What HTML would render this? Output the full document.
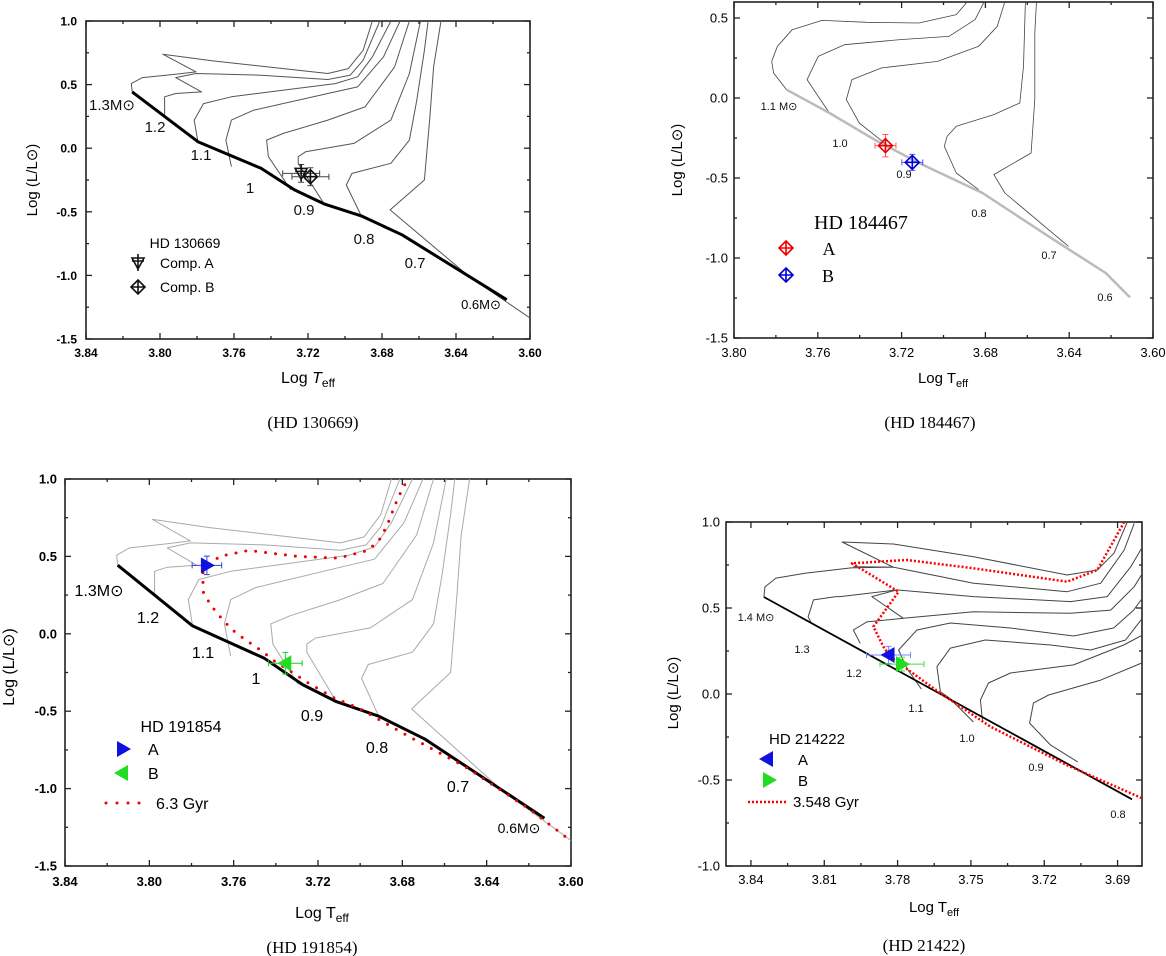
<!DOCTYPE html>
<html><head><meta charset="utf-8"><style>
html,body{margin:0;padding:0;background:#fff;}
svg{display:block;font-family:"Liberation Sans",Arial,sans-serif;}
.cap{font-family:"Liberation Serif",serif;font-size:17px;}
.lbl{font-size:15px;fill:#111;}
.sl{font-size:11px;fill:#111;}
</style></head><body>
<svg id="fig" width="1166" height="956" viewBox="0 0 1166 956" xmlns="http://www.w3.org/2000/svg">
<defs>
<clipPath id="c1"><rect x="86" y="21" width="444" height="318"/></clipPath>
<clipPath id="c2"><rect x="734" y="2" width="419" height="336"/></clipPath>
<clipPath id="c3"><rect x="65" y="479" width="506" height="387"/></clipPath>
<clipPath id="c4"><rect x="726" y="522" width="416" height="344"/></clipPath>
</defs>
<!-- Panel 1 static text -->
<g>
<text x="37" y="180" transform="rotate(-90 37 180)" text-anchor="middle" font-size="15">Log (L/L⊙)</text>
<text x="308" y="383" text-anchor="middle" font-size="16">Log <tspan font-style="italic">T</tspan><tspan font-size="12" dy="4">eff</tspan></text>
<text x="313" y="428" text-anchor="middle" class="cap">(HD 130669)</text>
<text x="112" y="110" text-anchor="middle" class="lbl">1.3M⊙</text>
<text x="155" y="132" text-anchor="middle" class="lbl">1.2</text>
<text x="201" y="160" text-anchor="middle" class="lbl">1.1</text>
<text x="250" y="193" text-anchor="middle" class="lbl">1</text>
<text x="304" y="215" text-anchor="middle" class="lbl">0.9</text>
<text x="364" y="244" text-anchor="middle" class="lbl">0.8</text>
<text x="415" y="268" text-anchor="middle" class="lbl">0.7</text>
<text x="481" y="309" text-anchor="middle" font-size="13">0.6M⊙</text>
<text x="185" y="248" text-anchor="middle" font-size="14">HD 130669</text>
<text x="160" y="268" font-size="14">Comp. A</text>
<text x="160" y="292" font-size="14">Comp. B</text>
</g>
<!-- Panel 2 static text -->
<g>
<text x="682" y="160" transform="rotate(-90 682 160)" text-anchor="middle" font-size="15">Log (L/L⊙)</text>
<text x="943" y="383" text-anchor="middle" font-size="15">Log T<tspan font-size="11" dy="4">eff</tspan></text>
<text x="930" y="428" text-anchor="middle" class="cap">(HD 184467)</text>
<text x="779" y="110" text-anchor="middle" class="sl">1.1 M⊙</text>
<text x="840" y="147" text-anchor="middle" class="sl">1.0</text>
<text x="904" y="178" text-anchor="middle" class="sl">0.9</text>
<text x="979" y="217" text-anchor="middle" class="sl">0.8</text>
<text x="1049" y="259" text-anchor="middle" class="sl">0.7</text>
<text x="1105" y="301" text-anchor="middle" class="sl">0.6</text>
<text x="861" y="229" text-anchor="middle" font-size="20" font-family="Liberation Serif,serif">HD 184467</text>
<text x="829" y="255" text-anchor="middle" font-size="18" font-family="Liberation Serif,serif">A</text>
<text x="828" y="282" text-anchor="middle" font-size="18" font-family="Liberation Serif,serif">B</text>
</g>
<!-- Panel 3 static text -->
<g>
<text x="14" y="667" transform="rotate(-90 14 667)" text-anchor="middle" font-size="16">Log (L/L⊙)</text>
<text x="322" y="918" text-anchor="middle" font-size="16">Log T<tspan font-size="12" dy="4">eff</tspan></text>
<text x="312" y="953" text-anchor="middle" class="cap">(HD 191854)</text>
<text x="99" y="596" text-anchor="middle" font-size="16">1.3M⊙</text>
<text x="148" y="623" text-anchor="middle" font-size="16">1.2</text>
<text x="203" y="658" text-anchor="middle" font-size="16">1.1</text>
<text x="256" y="684" text-anchor="middle" font-size="16">1</text>
<text x="312" y="721" text-anchor="middle" font-size="16">0.9</text>
<text x="377" y="753" text-anchor="middle" font-size="16">0.8</text>
<text x="458" y="792" text-anchor="middle" font-size="16">0.7</text>
<text x="519" y="833" text-anchor="middle" font-size="14">0.6M⊙</text>
<text x="181" y="732" text-anchor="middle" font-size="16">HD 191854</text>
<text x="148" y="755" font-size="16">A</text>
<text x="148" y="779" font-size="16">B</text>
<text x="156" y="809" font-size="16">6.3 Gyr</text>
</g>
<!-- Panel 4 static text -->
<g>
<text x="678" y="693" transform="rotate(-90 678 693)" text-anchor="middle" font-size="15">Log (L/L⊙)</text>
<text x="934" y="912" text-anchor="middle" font-size="15">Log T<tspan font-size="11" dy="4">eff</tspan></text>
<text x="924" y="951" text-anchor="middle" class="cap">(HD 21422)</text>
<text x="756" y="621" text-anchor="middle" class="sl">1.4 M⊙</text>
<text x="802" y="653" text-anchor="middle" class="sl">1.3</text>
<text x="854" y="677" text-anchor="middle" class="sl">1.2</text>
<text x="916" y="712" text-anchor="middle" class="sl">1.1</text>
<text x="967" y="742" text-anchor="middle" class="sl">1.0</text>
<text x="1036" y="771" text-anchor="middle" class="sl">0.9</text>
<text x="1118" y="818" text-anchor="middle" class="sl">0.8</text>
<text x="807" y="744" text-anchor="middle" font-size="15">HD 214222</text>
<text x="798" y="765" font-size="15">A</text>
<text x="798" y="786" font-size="15">B</text>
<text x="793" y="807" font-size="15">3.548 Gyr</text>
</g>
</svg>
<script>
// ===== Shared track data (panels 1 & 3): [logTeff, logL] =====
const zamsA = [[3.815,0.443],[3.7795,0.051],[3.7454,-0.158],[3.7273,-0.328],[3.7113,-0.438],[3.6912,-0.532],[3.6692,-0.681],[3.6126,-1.191]];
const trackA13 = [[3.815,0.443],[3.8155,0.508],[3.8095,0.555],[3.7915,0.582],[3.7805,0.600],[3.7985,0.739],[3.7714,0.686],[3.7093,0.587],[3.6982,0.626],[3.6902,0.770],[3.6852,1.0]];
const trackA12 = [[3.7975,0.25],[3.7975,0.351],[3.7975,0.404],[3.7915,0.430],[3.7775,0.443],[3.7915,0.555],[3.7805,0.587],[3.7454,0.574],[3.7093,0.540],[3.6972,0.574],[3.6902,0.691],[3.6812,1.0]];
const trackA11 = [[3.7795,0.051],[3.7815,0.221],[3.7765,0.351],[3.7614,0.404],[3.7053,0.508],[3.6932,0.561],[3.6852,0.718],[3.6752,1.0]];
const trackA10 = [[3.7614,-0.145],[3.7644,0.064],[3.7614,0.221],[3.7494,0.299],[3.7093,0.430],[3.6932,0.482],[3.6792,0.718],[3.6702,1.0]];
const trackA09 = [[3.7293,-0.328],[3.7414,-0.067],[3.7424,0.064],[3.7333,0.116],[3.7093,0.221],[3.6892,0.325],[3.6732,0.639],[3.6652,1.0]];
const trackA08 = [[3.7113,-0.438],[3.7253,-0.119],[3.7253,-0.067],[3.7213,-0.028],[3.6952,0.038],[3.6752,0.221],[3.6652,0.587],[3.6592,1.0]];
const trackA07 = [[3.6912,-0.532],[3.6993,-0.289],[3.6962,-0.198],[3.6752,-0.119],[3.6652,0.064],[3.6612,0.378],[3.6571,0.770],[3.6551,1.0]];
const trackA06 = [[3.60,-1.335],[3.633,-1.008],[3.6756,-0.485],[3.6571,-0.250],[3.6541,0.247],[3.6521,0.639],[3.6481,1.0]];
// Panel 1 stars [T, L, errT, errL]
const p1StarA = [3.7237,-0.198,0.010,0.07];
const p1StarB = [3.7187,-0.224,0.010,0.07];
// ===== Panel 2 =====
const zamsB = [[3.7749,0.052],[3.7544,-0.094],[3.7330,-0.260],[3.7117,-0.406],[3.6814,-0.594],[3.6475,-0.885],[3.6226,-1.094],[3.611,-1.246]];
const trackB11 = [[3.7749,0.052],[3.7811,0.156],[3.782,0.229],[3.7793,0.323],[3.7722,0.427],[3.7580,0.485],[3.7366,0.473],[3.7117,0.469],[3.6939,0.521],[3.6885,0.604]];
const trackB10 = [[3.7544,-0.094],[3.7598,0.010],[3.7651,0.115],[3.7598,0.260],[3.7473,0.333],[3.7206,0.365],[3.6974,0.385],[3.6849,0.490],[3.6805,0.604]];
const trackB09 = [[3.7241,-0.323],[3.7402,-0.156],[3.7464,-0.010],[3.7437,0.115],[3.7295,0.188],[3.7028,0.229],[3.6832,0.323],[3.6743,0.448],[3.6707,0.604]];
const trackB08 = [[3.6832,-0.573],[3.6939,-0.469],[3.6996,-0.302],[3.6983,-0.240],[3.6939,-0.177],[3.6760,-0.104],[3.6636,-0.031],[3.6618,0.198],[3.6609,0.604]];
const trackB07 = [[3.6404,-0.927],[3.6707,-0.594],[3.6760,-0.479],[3.6582,-0.344],[3.6564,-0.010],[3.6564,0.406],[3.6556,0.604]];
const p2StarA = [3.7277,-0.298,0.005,0.07];
const p2StarB = [3.7149,-0.402,0.005,0.05];
// ===== Panel 3 =====
const iso63T = [3.6789,3.6821,3.6874,3.6909,3.6962,3.7104,3.7298,3.7528,3.7669,3.7748,3.7743,3.7704,3.7655,3.7607,3.7545,3.7475,3.7404,3.7316,3.7245,3.7121,3.7007,3.6768,3.6503,3.6203,3.6027];
const iso63L = [0.963,0.877,0.694,0.608,0.539,0.489,0.500,0.539,0.500,0.392,0.263,0.177,0.095,0.026,-0.039,-0.103,-0.179,-0.254,-0.319,-0.416,-0.480,-0.664,-0.858,-1.127,-1.310];
const p3StarA = [3.7727,0.442,0.007,0.06];
const p3StarB = [3.7355,-0.190,0.008,0.07];
// ===== Panel 4 =====
const zamsD = [[3.8347,0.564],[3.6841,-0.612]];
const trackD14 = [[3.8347,0.564],[3.8343,0.622],[3.8298,0.674],[3.8175,0.703],[3.7990,0.733],[3.7818,0.738],[3.8027,0.884],[3.7817,0.872],[3.7489,0.798],[3.7106,0.692],[3.6983,0.721],[3.6915,0.818],[3.6860,1.0]];
const trackD13a = [[3.7981,0.740],[3.7818,0.738],[3.7489,0.644],[3.7106,0.595],[3.6969,0.644],[3.6873,0.837],[3.6832,0.992]];
const trackD13 = [[3.8152,0.411],[3.8166,0.449],[3.8144,0.547],[3.8052,0.566],[3.8035,0.566],[3.7803,0.605],[3.7489,0.566],[3.7092,0.537],[3.6942,0.566],[3.6846,0.740],[3.6798,0.856]];
const trackD12 = [[3.7953,0.295],[3.7981,0.372],[3.7926,0.419],[3.7776,0.440],[3.7489,0.478],[3.7092,0.469],[3.6928,0.488],[3.6832,0.624],[3.6798,0.702]];
const trackD12z = [[3.7803,0.605],[3.7905,0.566],[3.7776,0.440]];
const trackD11 = [[3.7703,0.029],[3.7762,0.149],[3.7796,0.256],[3.7721,0.372],[3.7584,0.413],[3.7338,0.384],[3.7080,0.337],[3.6916,0.384],[3.6834,0.488],[3.6798,0.558]];
const trackD10 = [[3.7490,-0.163],[3.7588,-0.023],[3.7625,0.013],[3.7639,0.159],[3.7584,0.267],[3.7441,0.314],[3.7174,0.285],[3.7010,0.256],[3.6867,0.314],[3.6798,0.442]];
const trackD09 = [[3.7453,-0.151],[3.7461,-0.035],[3.7428,0.064],[3.7338,0.122],[3.7080,0.169],[3.6875,0.285],[3.6798,0.343]];
const trackD08 = [[3.7063,-0.395],[3.7174,-0.297],[3.7260,-0.169],[3.7244,-0.052],[3.7182,-0.006],[3.6969,0.081],[3.6801,0.180]];
const iso3548T = [3.6873,3.6983,3.7106,3.7489,3.7762,3.7987,3.7796,3.7899,3.7858,3.7830,3.7625,3.7420,3.7108,3.6801];
const iso3548L = [1.0,0.721,0.653,0.731,0.779,0.760,0.595,0.391,0.275,0.217,0.004,-0.190,-0.413,-0.605];
const p4StarA = [3.7837,0.227,0.009,0.05];
const p4StarB = [3.7782,0.174,0.009,0.04];
// Tick values
const p1XTicks = [3.84,3.80,3.76,3.72,3.68,3.64,3.60];
const p1YTicks = [1.0,0.5,0.0,-0.5,-1.0,-1.5];
const p2XTicks = [3.80,3.76,3.72,3.68,3.64,3.60];
const p2YTicks = [0.5,0.0,-0.5,-1.0,-1.5];
const p4XTicks = [3.84,3.81,3.78,3.75,3.72,3.69];
const p4YTicks = [1.0,0.5,0.0,-0.5,-1.0];

const NS = "http://www.w3.org/2000/svg";
const svg = document.getElementById('fig');
function mk(tag, attrs, parent){
  const e = document.createElementNS(NS, tag);
  for (const k in attrs) e.setAttribute(k, attrs[k]);
  (parent || svg).appendChild(e);
  return e;
}
function panel(x0,y0,x1,y1,tL,tR,lMin,lMax,clip){
  return {x0,y0,x1,y1,tL,tR,lMin,lMax,clip,
    sx(t){return x0 + (tL - t)/(tL - tR)*(x1 - x0);},
    sy(l){return y1 - (l - lMin)/(lMax - lMin)*(y1 - y0);}};
}
const P1 = panel(86,21,530,339,3.84,3.60,-1.5,1.0,'c1');
const P2 = panel(734,2,1153,338,3.80,3.60,-1.5,0.6,'c2');
const P3 = panel(65,479,571,866,3.84,3.60,-1.5,1.0,'c3');
const P4 = panel(726,522,1142,866,3.8502,3.68,-1.0,1.0,'c4');

function axes(P, xt, yt, xdec, fs, bold, name, xlOff, ylOff){
  const g = mk('g', {});
  
  
  const fr = mk('rect', {x:P.x0, y:P.y0, width:P.x1-P.x0, height:P.y1-P.y0, fill:'none', stroke:'#222', 'stroke-width':1.6}, g);
  
  
  const xall = [];
  xt.forEach((v,i) => { xall.push([v,6]); if (i < xt.length-1) xall.push([(v + xt[i+1])/2,3]); });
  xall.forEach(([v,len]) => {
    const x = P.sx(v);
    const t1 = mk('line', {x1:x, x2:x, y1:P.y1, y2:P.y1-len, stroke:'#222', 'stroke-width':1.3}, g);
    
    
    const t2 = mk('line', {x1:x, x2:x, y1:P.y0, y2:P.y0+len, stroke:'#222', 'stroke-width':1.3}, g);
    
    
  });
  xt.forEach(v => {
    const t = mk('text', {x:P.sx(v), y:P.y1+xlOff, 'text-anchor':'middle', 'font-size':fs, 'font-weight':bold?'bold':'normal'}, g);
    t.textContent = v.toFixed(xdec);
    
    
  });
  const yall = [];
  yt.forEach((v,i) => { yall.push([v,6]); if (i < yt.length-1) yall.push([(v + yt[i+1])/2,3]); });
  yall.forEach(([v,len]) => {
    const y = P.sy(v);
    const t1 = mk('line', {x1:P.x0, x2:P.x0+len, y1:y, y2:y, stroke:'#222', 'stroke-width':1.3}, g);
    
    
    const t2 = mk('line', {x1:P.x1, x2:P.x1-len, y1:y, y2:y, stroke:'#222', 'stroke-width':1.3}, g);
    
    
  });
  yt.forEach(v => {
    const t = mk('text', {x:P.x0-ylOff, y:P.sy(v)+4.5, 'text-anchor':'end', 'font-size':fs, 'font-weight':bold?'bold':'normal'}, g);
    t.textContent = v.toFixed(1);
    
    
  });
}
function line(P, pts, color, w, name, extra){
  const d = pts.map((p,i) => (i ? 'L' : 'M') + P.sx(p[0]).toFixed(1) + ' ' + P.sy(p[1]).toFixed(1)).join(' ');
  const a = {d:d, fill:'none', stroke:color, 'stroke-width':w, 'stroke-linejoin':'round', 'clip-path':'url(#' + P.clip + ')'};
  if (extra) for (const k in extra) a[k] = extra[k];
  const e = mk('path', a);
  
  
  return e;
}
function zip(T, L){ return T.map((t,i) => [t, L[i]]); }
function errbars(P, s, color, name){
  const x = P.sx(s[0]), y = P.sy(s[1]);
  const xa = P.sx(s[0]+s[2]), xb = P.sx(s[0]-s[2]), ya = P.sy(s[1]+s[3]), yb = P.sy(s[1]-s[3]);
  const d = `M${xa} ${y}H${xb}M${x} ${ya}V${yb}M${xa} ${y-3}v6M${xb} ${y-3}v6M${x-3} ${ya}h6M${x-3} ${yb}h6`;
  const e = mk('path', {d:d, stroke:color, 'stroke-width':1, fill:'none'});
  
  
}
function marker(x, y, shape, color, name){
  let e;
  if (shape === 'tri-down-cross') {
    e = mk('path', {d:`M${x-6} ${y-5}L${x+6} ${y-5}L${x} ${y+6}ZM${x} ${y-9}V${y+8}M${x-6} ${y-2}H${x+6}`, fill:'none', stroke:color, 'stroke-width':1.6});
  } else if (shape === 'diamond-cross') {
    e = mk('path', {d:`M${x} ${y-7}L${x+7} ${y}L${x} ${y+7}L${x-7} ${y}ZM${x} ${y-7}V${y+7}M${x-7} ${y}H${x+7}`, fill:'none', stroke:color, 'stroke-width':1.6});
  } else if (shape === 'tri-right') {
    e = mk('path', {d:`M${x-6} ${y-8}L${x+8} ${y}L${x-6} ${y+8}Z`, fill:color});
  } else {
    e = mk('path', {d:`M${x+6} ${y-8}L${x-8} ${y}L${x+6} ${y+8}Z`, fill:color});
  }
  
  
}
function star(P, s, shape, color, ecolor, name){
  errbars(P, s, ecolor, name);
  marker(P.sx(s[0]), P.sy(s[1]), shape, color, name);
}

// ---- Panel 1 ----
axes(P1, p1XTicks, p1YTicks, 2, 12, true, 'p1', 18, 9);
const tracksA = [trackA13, trackA12, trackA11, trackA10, trackA09, trackA08, trackA07, trackA06];
tracksA.forEach((t,i) => line(P1, t, '#555', 1, 'p1-track-' + i));
line(P1, zamsA, '#000', 3, 'p1-zams-line');
star(P1, p1StarA, 'tri-down-cross', '#111', '#444', 'p1-comp-a');
star(P1, p1StarB, 'diamond-cross', '#111', '#444', 'p1-comp-b');
marker(138, 263, 'tri-down-cross', '#111', 'p1-legend-a-marker');
marker(138, 287, 'diamond-cross', '#111', 'p1-legend-b-marker');

// ---- Panel 2 ----
axes(P2, p2XTicks, p2YTicks, 2, 13, false, 'p2', 19, 6);
[trackB11, trackB10, trackB09, trackB08, trackB07].forEach((t,i) => line(P2, t, '#444', 0.8, 'p2-track-' + i));
line(P2, zamsB, '#bbb', 2.5, 'p2-zams-line');
star(P2, p2StarA, 'diamond-cross', '#e00', '#f55', 'p2-star-a');
star(P2, p2StarB, 'diamond-cross', '#00d', '#55f', 'p2-star-b');
marker(786, 248, 'diamond-cross', '#e00', 'p2-legend-a-marker');
marker(786, 275, 'diamond-cross', '#00d', 'p2-legend-b-marker');

// ---- Panel 3 ----
axes(P3, p1XTicks, p1YTicks, 2, 13, true, 'p3', 20, 8);
tracksA.forEach((t,i) => line(P3, t, '#aaa', 1, 'p3-track-' + i));
line(P3, zamsA, '#000', 3, 'p3-zams-line');
line(P3, zip(iso63T, iso63L), '#e00', 3, 'p3-isochrone-6.3gyr', {'stroke-dasharray':'0 10', 'stroke-linecap':'round'});
star(P3, p3StarA, 'tri-right', '#1010e0', '#3344cc', 'p3-star-a');
star(P3, p3StarB, 'tri-left', '#22dd22', '#22cc22', 'p3-star-b');
marker(123, 749, 'tri-right', '#1010e0', 'p3-legend-a-marker');
marker(122, 773, 'tri-left', '#22dd22', 'p3-legend-b-marker');
const lg3 = mk('path', {d:'M106 803H141', stroke:'#e00', 'stroke-width':3, 'stroke-dasharray':'0 11', 'stroke-linecap':'round'});



// ---- Panel 4 ----
axes(P4, p4XTicks, p4YTicks, 2, 13, false, 'p4', 18, 6);
[trackD14, trackD13a, trackD13, trackD12, trackD12z, trackD11, trackD10, trackD09, trackD08].forEach((t,i) => line(P4, t, '#444', 1, 'p4-track-' + i));
line(P4, zamsD, '#000', 1.8, 'p4-zams-line');
line(P4, zip(iso3548T, iso3548L), '#f00', 2.5, 'p4-isochrone-3.548gyr', {'stroke-dasharray':'2 2'});
star(P4, p4StarA, 'tri-left', '#1010e0', '#7788ff', 'p4-star-a');
star(P4, p4StarB, 'tri-right', '#22dd22', '#44dd44', 'p4-star-b');
marker(767, 759, 'tri-left', '#1010e0', 'p4-legend-a-marker');
marker(769, 780, 'tri-right', '#22dd22', 'p4-legend-b-marker');
const lg4 = mk('path', {d:'M748 802H786', stroke:'#f00', 'stroke-width':2.5, 'stroke-dasharray':'2 2'});


</script>
</body></html>
